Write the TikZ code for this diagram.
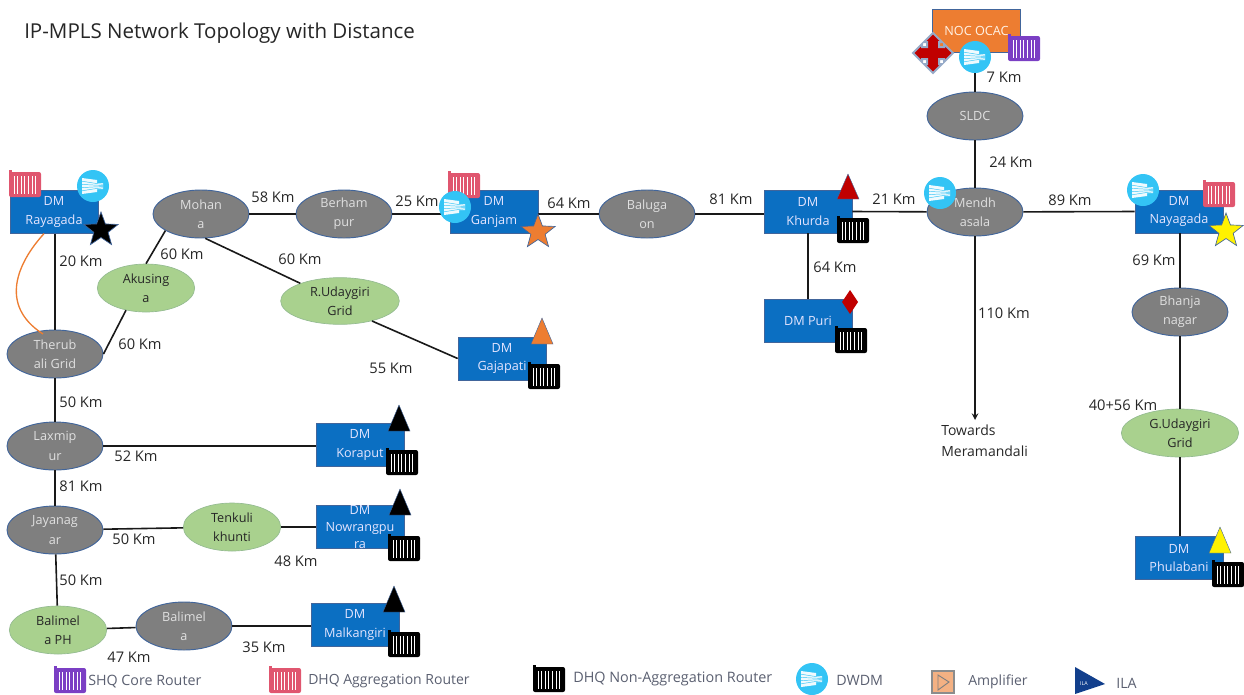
\documentclass[tikz,border=0pt]{standalone}
\usepackage{fontspec}
\setmainfont{Open Sans}
\usetikzlibrary{shapes.geometric}
\definecolor{dmblue}{HTML}{0B6FC2}
\definecolor{ggray}{HTML}{7F7F7F}
\definecolor{ggreen}{HTML}{A9D18E}
\definecolor{eborder}{HTML}{41659B}
\definecolor{nocor}{HTML}{ED7D31}
\definecolor{rpink}{HTML}{E0566F}
\definecolor{rpurple}{HTML}{7B3FC4}
\definecolor{dwdm}{HTML}{33C4F5}
\definecolor{legtxt}{HTML}{5A5F70}
\definecolor{dred}{HTML}{C00000}
\definecolor{ilablue}{HTML}{123F8C}
\definecolor{ampfill}{HTML}{F4B183}
\tikzset{
  x=0.75pt,y=-0.75pt,
  lbl/.style={font=\fontsize{11}{13}\selectfont,text=black!85,inner sep=0pt},
  dmbox/.style={rectangle,draw=eborder,line width=0.5pt,fill=dmblue,minimum width=66pt,minimum height=32pt,inner sep=0pt,align=center,text=white!90!blue,font=\fontsize{9.5}{14}\selectfont},
  grayell/.style={ellipse,draw=eborder,line width=0.7pt,fill=ggray,minimum width=72pt,minimum height=36pt,inner sep=0pt,align=center,text=white!88!black,font=\fontsize{9.5}{14.5}\selectfont},
  greenell/.style={ellipse,draw=ggreen!80!eborder,line width=0.5pt,fill=ggreen,minimum width=73pt,minimum height=36pt,inner sep=0pt,align=center,text=black!85,font=\fontsize{9.5}{14.5}\selectfont},
  link/.style={draw=black!90,line width=1.2pt},
  legtext/.style={font=\fontsize{10.7}{12}\selectfont,text=legtxt,inner sep=0pt,anchor=west},
  pics/router/.style={code={
    \fill[#1,rounded corners=1.5pt] (-16,-12) rectangle (16,13);
    \fill[#1] (-16,-14) rectangle (-13,-10);
    \foreach \bx in {-11,-7.4,-3.8,-0.2,3.4,7,10.6}{\draw[white,line width=0.75pt] (\bx,-8) -- (\bx,9.5);}
  }},
  pics/dwdmic/.style={code={
    \fill[dwdm] (0,0) circle[radius=16];
    \fill[white!92!dwdm] (-11,-8) -- (4,-6) -- (4,-3) -- (10,-3) -- (10,3) -- (4,3) -- (4,6) -- (-11,8) -- cycle;
    \foreach \by in {-0.6,-0.2,0.2,0.6}{\draw[dwdm,line width=0.35pt] (-11,8*\by) -- (4,4*\by) -- (10,3*\by);}
  }},
  startop/.style={star,star points=5,star point ratio=2.4,minimum size=#1,inner sep=0pt,draw=eborder,line width=0.5pt},
}
\newcommand{\trimark}[4]{\fill[#1,draw=eborder,line width=0.3pt] (#2,#3) -- (#2+11,#3+#4) -- (#2-11,#3+#4) -- cycle;}
\begin{document}
\begin{tikzpicture}
\useasboundingbox (0,0) rectangle (1244,694);
% title
\node[anchor=west,inner sep=0pt,font=\fontsize{15.4}{18}\selectfont,text=black!85] (title) at (24,33) {IP-MPLS Network Topology with Distance};
% boxes
\node[dmbox] (rayagada) at (54,212) {DM\\Rayagada};
\node[dmbox] (ganjam) at (494,212) {DM\\Ganjam};
\node[dmbox] (khurda) at (808,211.5) {DM\\Khurda};
\node[dmbox] (puri) at (808,320.5) {DM Puri};
\node[dmbox] (nayagada) at (1179,211.5) {DM\\Nayagada};
\node[dmbox] (phulabani) at (1179,558) {DM\\Phulabani};
\node[dmbox] (gajapati) at (502,358.5) {DM\\Gajapati};
\node[dmbox] (koraput) at (360,445) {DM\\Koraput};
\node[dmbox,font=\fontsize{9.5}{12.5}\selectfont] (nowrang) at (360,527) {DM\\Nowrangpu\\ra};
\node[dmbox] (malkan) at (355,625) {DM\\Malkangiri};
\node[rectangle,draw=eborder,line width=0.7pt,fill=nocor,minimum width=66.5pt,minimum height=32pt,inner sep=0pt,text=white!90!orange,font=\fontsize{9.5}{12}\selectfont] (noc) at (976.5,31) {NOC OCAC};
% ellipses
\node[grayell] (therub) at (55,354) {Therub\\ali Grid};
\node[grayell] (laxmi) at (55,446) {Laxmip\\ur};
\node[grayell] (jaya) at (55,530) {Jayanag\\ar};
\node[greenell] (balph) at (58,630) {Balimel\\a PH};
\node[grayell] (bal) at (184,626) {Balimel\\a};
\node[greenell] (tenk) at (232,527) {Tenkuli\\khunti};
\node[greenell] (akus) at (146,288) {Akusing\\a};
\node[grayell] (mohana) at (201,214) {Mohan\\a};
\node[grayell] (berham) at (344,214) {Berham\\pur};
\node[grayell] (baluga) at (647,214) {Baluga\\on};
\node[grayell] (mendh) at (975,212) {Mendh\\asala};
\node[grayell] (sldc) at (975,116) {SLDC};
\node[grayell] (bhanja) at (1180,312) {Bhanja\\nagar};
\node[greenell,minimum width=88pt] (gud) at (1180,433) {G.Udaygiri\\Grid};
\node[greenell,minimum width=89pt,minimum height=35pt] (rud) at (340,301) {R.Udaygiri\\Grid};
\coordinate (towards) at (975,420);
% connectors
\draw[link] (rayagada.south -| therub.north) -- (therub.north);
\draw[link] (therub) -- (laxmi);
\draw[link] (laxmi) -- (jaya);
\draw[link] (jaya) -- (balph);
\draw[link] (balph) -- (bal);
\draw[link] (bal.east) -- (bal.east -| malkan.west);
\draw[link] (laxmi.east) -- (laxmi.east -| koraput.west);
\draw[link] (jaya) -- (tenk);
\draw[link] (tenk.east) -- (tenk.east -| nowrang.west);
\draw[link] (therub.0) -- (akus.228);
\draw[link] (mohana.205) -- (akus.90);
\draw[link] (mohana.-80) -- (rud.156);
\draw[link] (rud.-32) -- (gajapati.west);
\draw[link] (mohana) -- (berham);
\draw[link] (berham) -- (ganjam.west |- berham);
\draw[link] (ganjam.east |- baluga) -- (baluga);
\draw[link] (baluga) -- (khurda.west |- baluga);
\draw[link] (khurda.east) -- (mendh);
\draw[link] (mendh) -- (nayagada.west);
\draw[link] (khurda) -- (puri);
\draw[link] (mendh) -- (sldc);
\draw[link] (sldc) -- (noc.south -| sldc);
\draw[link,-stealth] (mendh) -- (towards);
\draw[link] (nayagada.south -| bhanja.north) -- (bhanja.north);
\draw[link] (bhanja) -- (gud);
\draw[link] (gud.south) -- (gud.south |- phulabani.north);
\coordinate (orA) at ([xshift=-7.5pt]rayagada.south);
\coordinate (orB) at (43,334);
\draw[nocor,line width=1pt] (orA) .. controls (18,262) and (-2,305) .. (orB);
% labels
\foreach \tx/\ty/\tt in {273/197/58 Km,417/201/25 Km,569/203/64 Km,731/199/81 Km,894/199/21 Km,1070/200/89 Km,1004/77/7 Km,1011/162/24 Km,1004/313/110 Km,1154/260/69 Km,1123/405/40+56 Km,835/267/64 Km,182/254/60 Km,300/259/60 Km,140/344/60 Km,391/368/55 Km,81/261/20 Km,81/402/50 Km,136/456/52 Km,81/486/81 Km,134/539/50 Km,296/561/48 Km,81/580/50 Km,129/657/47 Km,264/647/35 Km}{
  \node[lbl] at (\tx,\ty) {\tt};
}
\node[lbl,anchor=north west,align=left,font=\fontsize{10.5}{15.5}\selectfont] (tow) at (941,425) {Towards\\Meramandali};
% markers: Rayagada
\pic at (25,184) {router=rpink};
\pic at (93,186) {dwdmic};
\node[startop=27pt,fill=black] at (101,230) {};
% Ganjam
\pic at (464,185) {router=rpink};
\node[startop=27pt,fill=nocor] at (538,232) {};
\pic at (455,207) {dwdmic};
% Khurda, Puri
\trimark{dred}{848}{174}{25}
\pic at (853,230) {router=black};
\fill[dred] (850,290) -- (858,302) -- (850,314) -- (842,302) -- cycle;
\pic at (851,340) {router=black};
% Mendhasala
\pic at (940,193) {dwdmic};
% Nayagada
\pic at (1143,190) {dwdmic};
\pic at (1219,194) {router=rpink};
\node[startop=27pt,fill=yellow] at (1226,231) {};
% Gajapati etc.
\trimark{nocor}{542}{318}{26}
\pic at (544,376) {router=black};
\trimark{black}{399}{405}{26}
\pic at (402,462) {router=black};
\trimark{black}{400}{489}{26}
\pic at (404,548) {router=black};
\trimark{black}{394}{586}{26}
\pic at (404,644) {router=black};
\trimark{yellow}{1220}{527}{26}
\pic at (1228,574) {router=black};
% NOC markers
\draw[fill=dred,draw=eborder!55!white,line width=1.5pt,line join=miter] (933,33) -- (942,42) -- (939,42) -- (939,47) -- (944,47) -- (944,44) -- (953,53) -- (944,62) -- (944,59) -- (939,59) -- (939,64) -- (942,64) -- (933,73) -- (924,64) -- (927,64) -- (927,59) -- (922,59) -- (922,62) -- (913,53) -- (922,44) -- (922,47) -- (927,47) -- (927,42) -- (924,42) -- cycle;
\pic at (975,57) {dwdmic};
\pic at (1024,48) {router=rpurple};
% legend
\pic at (70,680) {router=rpurple};
\node[legtext] (l1) at (88,682) {SHQ Core Router};
\pic at (285,680) {router=rpink};
\node[legtext,font=\fontsize{10.5}{12}\selectfont] (l2) at (308,681) {DHQ Aggregation Router};
\pic at (549,679) {router=black};
\node[legtext,font=\fontsize{10.8}{12}\selectfont] (l3) at (573,679) {DHQ Non-Aggregation Router};
\pic at (812,679) {dwdmic};
\node[legtext] (l4) at (836,680) {DWDM};
\fill[ampfill,draw=black!45,line width=0.8pt] (932,671) rectangle (954,693);
\draw[black!50,line width=0.7pt] (938,675) -- (949,682) -- (938,690) -- cycle;
\node[legtext,font=\fontsize{10.5}{12}\selectfont] (l5) at (968,682) {Amplifier};
\fill[ilablue] (1075,667) -- (1105,684) -- (1075,694) -- cycle;
\node[inner sep=0pt,text=white,font=\fontsize{4}{5}\selectfont] at (1084,684) {ILA};
\node[legtext] (l6) at (1116,683) {ILA};
\end{tikzpicture}
\end{document}
